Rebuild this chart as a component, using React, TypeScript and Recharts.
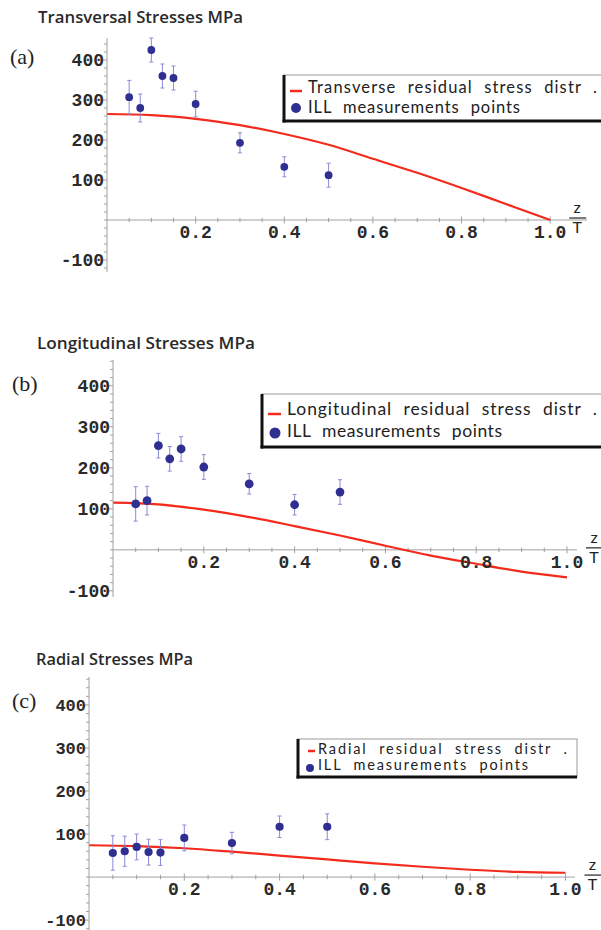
import React from 'react';
import { ComposedChart, Line, Scatter, XAxis, YAxis, ErrorBar, ReferenceLine, ReferenceDot } from 'recharts';

// ---- data ----
const measureZ = [0.05, 0.075, 0.1, 0.125, 0.15, 0.2, 0.3, 0.4, 0.5];
const transValues = [307, 280, 425, 360, 355, 290, 193, 133, 112];
const transErr = [42, 35, 30, 30, 30, 32, 25, 25, 30];
const longValues = [112, 120, 254, 222, 246, 202, 161, 110, 141];
const longErr = [42, 35, 30, 30, 30, 30, 25, 25, 30];
const radValues = [56, 60, 70, 58, 57, 91, 79, 117, 117];
const radErr = [40, 35, 30, 30, 30, 30, 25, 25, 30];

const curveZ = [0, 0.1, 0.2, 0.3, 0.4, 0.5, 0.6, 0.7, 0.8, 0.9, 1.0];
const transCurve = [265, 262, 253, 237, 215, 188, 153, 118, 80, 40, 0];
const longCurve = [115, 111, 98, 80, 58, 35, 10, -14, -34, -53, -67];
const radCurve = [74, 72, 67, 59, 50, 41, 32, 24, 17, 12, 10];

const yMajorTicks = [-100, 100, 200, 300, 400];
const yMinorTicks = [-120, -100, -80, -60, -40, -20, 0, 20, 40, 60, 80, 100, 120, 140, 160, 180, 200, 220, 240, 260, 280, 300, 320, 340, 360, 380, 400, 420, 440, 460];
const xMajorTicks = [0.2, 0.4, 0.6, 0.8, 1.0];
const xTickLabels = ['0.2', '0.4', '0.6', '0.8', '1.0'];
const xMinorTicks = [0.05, 0.1, 0.15, 0.2, 0.25, 0.3, 0.35, 0.4, 0.45, 0.5, 0.55, 0.6, 0.65, 0.7, 0.75, 0.8, 0.85, 0.9, 0.95, 1.0];

const titles = ['Transversal Stresses MPa', 'Longitudinal Stresses MPa', 'Radial Stresses MPa'];
const panelLetters = ['(a)', '(b)', '(c)'];
const curveNames = ['Transverse residual stress distr .', 'Longitudinal residual stress distr .', 'Radial residual stress distr .'];
const pointsName = 'ILL measurements points';

// ---- styles ----
const RED = '#f32a1c';
const NAVY = '#2f2f92';
const ERR = '#8a8ad6';
const AXIS = '#a0a0a0';
const TICK_FONT = 'Liberation Mono, Courier New, monospace';
const SANS = 'Lato, Open Sans, sans-serif';
const TITLE_FONT = 'Open Sans, Lato, sans-serif';

const panels = [
  { top: 0, height: 300, margin: { top: 38, right: 14, bottom: 28, left: 0 }, yW: 107, xMax: 1.083, yDomain: [-130, 455], values: transValues, err: transErr, curve: transCurve, r: 3.9, tickFs: 18 },
  { top: 320, height: 300, margin: { top: 40, right: 24, bottom: 23, left: 0 }, yW: 113, xMax: 1.022, yDomain: [-115, 463], values: longValues, err: longErr, curve: longCurve, r: 4.4, tickFs: 18 },
  { top: 640, height: 290, margin: { top: 37, right: 26, bottom: 0, left: 0 }, yW: 89, xMax: 1.02, yDomain: [-123, 465], values: radValues, err: radErr, curve: radCurve, r: 4.1, tickFs: 17 },
];

const makeYTick = (fs: number) => (props: any) => {
  const { x, y, payload } = props;
  const v = payload.value;
  const major = yMajorTicks.includes(v);
  return (
    <g>
      <line x1={x - (major ? 5 : 3)} x2={x} y1={y} y2={y} stroke={AXIS} strokeWidth={1} />
      {major && (
        <text x={x - 3} y={y} dy="0.33em" textAnchor="end" fill="#2a2a2a" fontSize={fs} fontWeight="bold" fontFamily={TICK_FONT}>
          {v}
        </text>
      )}
    </g>
  );
};

const Panel = ({ p }: { p: any }) => {
  const plotH = p.height - p.margin.top - p.margin.bottom;
  const unitsPerPx = (p.yDomain[1] - p.yDomain[0]) / plotH;
  const points = measureZ.map((z, i) => ({ z, v: p.values[i], e: p.err[i] }));
  const curve = curveZ.map((z, i) => ({ z, v: p.curve[i] }));
  const minorY = yMinorTicks.filter((t) => t >= p.yDomain[0] && t <= p.yDomain[1]);
  const minorX = xMinorTicks.filter((t) => t <= p.xMax);
  const YTick = makeYTick(p.tickFs);
  return (
    <div style={{ position: 'absolute', left: 0, top: p.top }}>
      <ComposedChart width={601} height={p.height} margin={p.margin}>
        <XAxis type="number" dataKey="z" domain={[0, p.xMax]} hide allowDataOverflow />
        <YAxis
          type="number"
          dataKey="v"
          domain={p.yDomain}
          ticks={minorY}
          interval={0}
          tickSize={0}
          tickMargin={0}
          tickLine={false}
          tick={(tp: any) => <YTick {...tp} />}
          axisLine={{ stroke: AXIS, strokeWidth: 1 }}
          width={p.yW}
          allowDataOverflow
        />
        <ReferenceLine y={0} stroke={AXIS} strokeWidth={1} />
        {minorX.map((t) => {
          const major = xMajorTicks.some((m) => Math.abs(m - t) < 1e-6);
          const d = (major ? 3.5 : 2.2) * unitsPerPx;
          return (
            <ReferenceLine key={'xt' + t} segment={[{ x: t, y: -d }, { x: t, y: d }]} stroke={AXIS} strokeWidth={1} />
          );
        })}
        {xMajorTicks.map((t, i) => (
          <ReferenceDot
            key={'xl' + t}
            x={t}
            y={0}
            r={0}
            shape={(sp: any) => (
              <text x={sp.cx} y={sp.cy + 18} textAnchor="middle" fill="#2a2a2a" fontSize={18} fontWeight="bold" fontFamily={TICK_FONT}>
                {xTickLabels[i]}
              </text>
            )}
          />
        ))}
        <ReferenceDot
          x={1.0}
          y={0}
          r={0}
          shape={(sp: any) => (
            <g>
              <text x={sp.cx + 27} y={sp.cy - 7} textAnchor="middle" fill="#222" fontSize={16} fontFamily={SANS}>z</text>
              <line x1={sp.cx + 19} x2={sp.cx + 36} y1={sp.cy - 2} y2={sp.cy - 2} stroke="#333" strokeWidth={1.3} />
              <text x={sp.cx + 27} y={sp.cy + 13} textAnchor="middle" fill="#222" fontSize={16} fontFamily={SANS}>T</text>
            </g>
          )}
        />
        <Line data={curve} dataKey="v" type="monotone" stroke={RED} strokeWidth={2.2} dot={false} isAnimationActive={false} />
        <Scatter
          data={points}
          dataKey="v"
          isAnimationActive={false}
          shape={(sp: any) => <circle cx={sp.cx} cy={sp.cy} r={p.r} fill={NAVY} />}
        >
          <ErrorBar dataKey="e" direction="y" width={2} stroke={ERR} strokeWidth={1} isAnimationActive={false} />
        </Scatter>
      </ComposedChart>
    </div>
  );
};

const legendBoxes = [
  { x: 284, y: 75, w: 340, h: 46, dash: [290, 302, 91], dot: [296, 108, 5], tx: 308, ty: [93, 113], fs: 16.5, len: [289, 212] },
  { x: 262, y: 394, w: 360, h: 53, dash: [268, 281, 414], dot: [275, 433, 5.5], tx: 287, ty: [415, 437], fs: 17.5, len: [310, 215] },
  { x: 298, y: 739, w: 279, h: 38, dash: [308, 315, 751], dot: [310, 768, 4], tx: 318, ty: [754, 770], fs: 14.5, len: [249, 210] },
];
const titlePos = [[38, 23], [37, 349], [36, 665]];
const titleLen = [205, 218, 157];
const letterPos = [[10, 64], [12, 391], [12, 708]];

const Overlay = () => (
  <svg width={601} height={930} style={{ position: 'absolute', left: 0, top: 0 }}>
    {titles.map((t, i) => (
      <text key={t} x={titlePos[i][0]} y={titlePos[i][1]} fontSize={16.5} fontWeight={600} fontFamily={TITLE_FONT} fill="#2a2a2a" textLength={titleLen[i]} lengthAdjust="spacingAndGlyphs">{t}</text>
    ))}
    {panelLetters.map((t, i) => (
      <text key={t} x={letterPos[i][0]} y={letterPos[i][1]} fontSize={22} fontFamily="Liberation Serif, serif" fill="#222">{t}</text>
    ))}
    {legendBoxes.map((b, i) => (
      <g key={'lg' + i}>
        <rect x={b.x} y={b.y} width={b.w} height={b.h} fill="#fff" stroke="#999" strokeWidth={1} />
        <line x1={b.x} x2={b.x} y1={b.y} y2={b.y + b.h + 1.5} stroke="#111" strokeWidth={3} />
        <line x1={b.x - 1.5} x2={b.x + b.w} y1={b.y + b.h} y2={b.y + b.h} stroke="#111" strokeWidth={3} />
        <line x1={b.dash[0]} x2={b.dash[1]} y1={b.dash[2]} y2={b.dash[2]} stroke={RED} strokeWidth={2.5} />
        <circle cx={b.dot[0]} cy={b.dot[1]} r={b.dot[2]} fill={NAVY} />
        <text x={b.tx} y={b.ty[0]} fontSize={b.fs} fontFamily={SANS} fill="#222" style={{ wordSpacing: 6 }} textLength={b.len[0]} lengthAdjust="spacing">{curveNames[i]}</text>
        <text x={b.tx} y={b.ty[1]} fontSize={b.fs} fontFamily={SANS} fill="#222" style={{ wordSpacing: 6 }} textLength={b.len[1]} lengthAdjust="spacing">{pointsName}</text>
      </g>
    ))}
  </svg>
);

export default function App() {
  return (
    <div style={{ position: 'absolute', left: 0, top: 0, width: 601, height: 930, overflow: 'hidden', background: '#fff' }}>
      {panels.map((p, i) => (
        <Panel key={i} p={p} />
      ))}
      <Overlay />
    </div>
  );
}
